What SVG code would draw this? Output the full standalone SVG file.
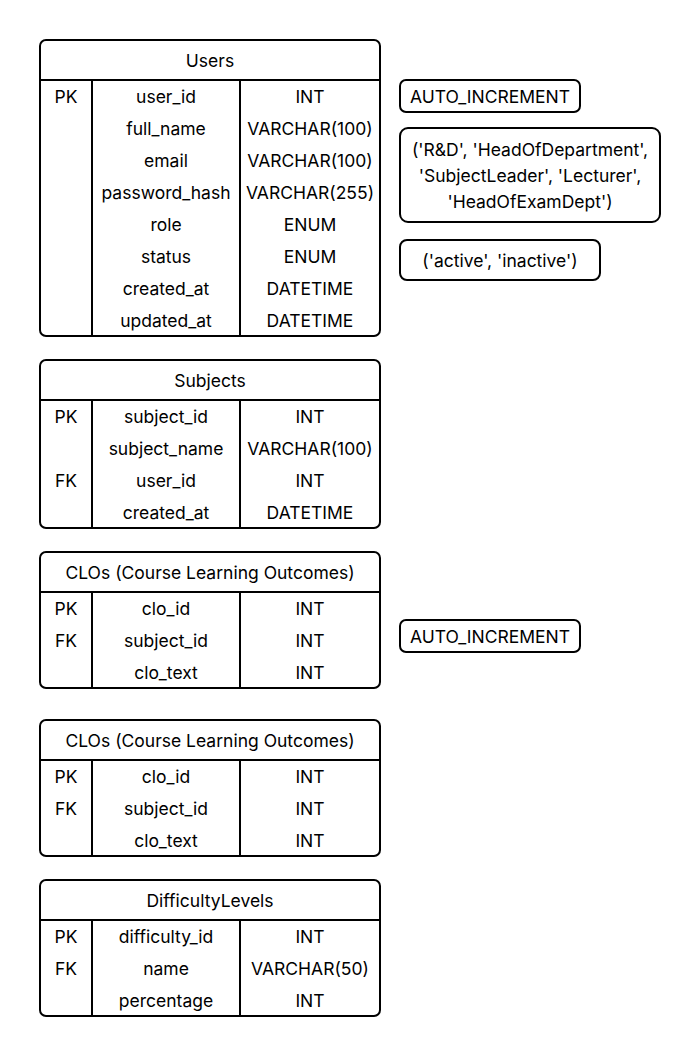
<svg xmlns="http://www.w3.org/2000/svg" width="700" height="1056" viewBox="0 0 700 1056">
<style>
.b{fill:#fff;stroke:#000;stroke-width:2}
.l{stroke:#000;stroke-width:2;fill:none}
text{font-family:Inter,"Noto Sans","Liberation Sans",sans-serif;font-size:17.5px;fill:#000;text-anchor:middle;dominant-baseline:central}
</style>
<rect width="700" height="1056" fill="#fff"/>
<g id="users">
<rect class="b" x="40" y="40" width="340" height="296" rx="6"/>
<path class="l" d="M40 80H380M92 80V336M240 80V336"/>
<text x="210" y="60">Users</text>
<text x="66" y="96">PK</text>
<text x="166" y="96">user_id</text><text x="310" y="96">INT</text>
<text x="166" y="128">full_name</text><text x="310" y="128">VARCHAR(100)</text>
<text x="166" y="160">email</text><text x="310" y="160">VARCHAR(100)</text>
<text x="166" y="192">password_hash</text><text x="310" y="192">VARCHAR(255)</text>
<text x="166" y="224">role</text><text x="310" y="224">ENUM</text>
<text x="166" y="256">status</text><text x="310" y="256">ENUM</text>
<text x="166" y="288">created_at</text><text x="310" y="288">DATETIME</text>
<text x="166" y="320">updated_at</text><text x="310" y="320">DATETIME</text>
</g>
<g id="note-autoinc-1">
<rect class="b" x="400" y="80" width="180" height="32" rx="6"/>
<text x="490" y="96">AUTO_INCREMENT</text>
</g>
<g id="note-role">
<rect class="b" x="400" y="128" width="260" height="94" rx="8"/>
<text x="530" y="149">('R&amp;D', 'HeadOfDepartment',</text>
<text x="530" y="175">'SubjectLeader', 'Lecturer',</text>
<text x="530" y="201">'HeadOfExamDept')</text>
</g>
<g id="note-status">
<rect class="b" x="400" y="240" width="200" height="40" rx="7"/>
<text x="500" y="260">('active', 'inactive')</text>
</g>
<g id="subjects">
<rect class="b" x="40" y="360" width="340" height="168" rx="6"/>
<path class="l" d="M40 400H380M92 400V528M240 400V528"/>
<text x="210" y="380">Subjects</text>
<text x="66" y="416">PK</text><text x="166" y="416">subject_id</text><text x="310" y="416">INT</text>
<text x="166" y="448">subject_name</text><text x="310" y="448">VARCHAR(100)</text>
<text x="66" y="480">FK</text><text x="166" y="480">user_id</text><text x="310" y="480">INT</text>
<text x="166" y="512">created_at</text><text x="310" y="512">DATETIME</text>
</g>
<g id="clos-1">
<rect class="b" x="40" y="552" width="340" height="136" rx="6"/>
<path class="l" d="M40 592H380M92 592V688M240 592V688"/>
<text x="210" y="572">CLOs (Course Learning Outcomes)</text>
<text x="66" y="608">PK</text><text x="166" y="608">clo_id</text><text x="310" y="608">INT</text>
<text x="66" y="640">FK</text><text x="166" y="640">subject_id</text><text x="310" y="640">INT</text>
<text x="166" y="672">clo_text</text><text x="310" y="672">INT</text>
</g>
<g id="note-autoinc-2">
<rect class="b" x="400" y="620" width="180" height="32" rx="6"/>
<text x="490" y="636">AUTO_INCREMENT</text>
</g>
<g id="clos-2">
<rect class="b" x="40" y="720" width="340" height="136" rx="6"/>
<path class="l" d="M40 760H380M92 760V856M240 760V856"/>
<text x="210" y="740">CLOs (Course Learning Outcomes)</text>
<text x="66" y="776">PK</text><text x="166" y="776">clo_id</text><text x="310" y="776">INT</text>
<text x="66" y="808">FK</text><text x="166" y="808">subject_id</text><text x="310" y="808">INT</text>
<text x="166" y="840">clo_text</text><text x="310" y="840">INT</text>
</g>
<g id="difficulty-levels">
<rect class="b" x="40" y="880" width="340" height="136" rx="6"/>
<path class="l" d="M40 920H380M92 920V1016M240 920V1016"/>
<text x="210" y="900">DifficultyLevels</text>
<text x="66" y="936">PK</text><text x="166" y="936">difficulty_id</text><text x="310" y="936">INT</text>
<text x="66" y="968">FK</text><text x="166" y="968">name</text><text x="310" y="968">VARCHAR(50)</text>
<text x="166" y="1000">percentage</text><text x="310" y="1000">INT</text>
</g>
<g id="connectors"></g>
</svg>
